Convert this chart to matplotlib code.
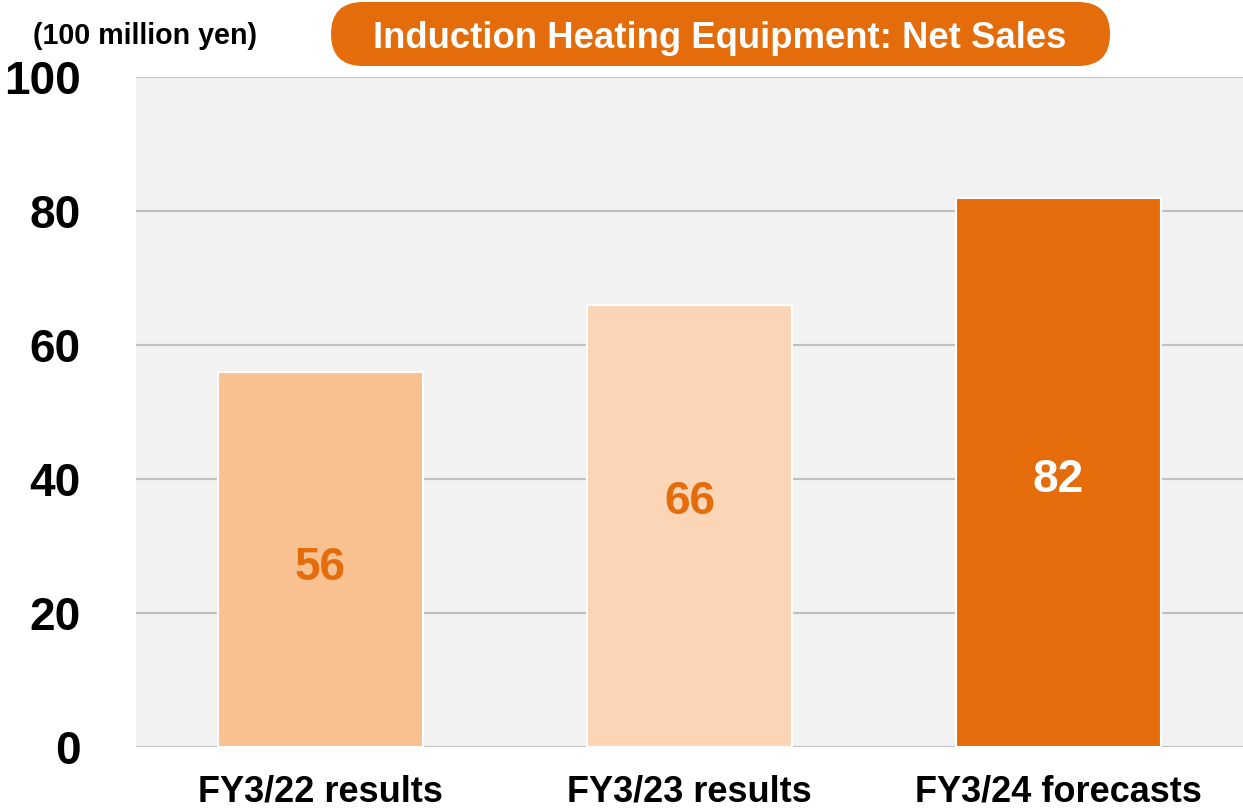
import numpy as np
import matplotlib.pyplot as plt
from matplotlib.patches import FancyBboxPatch

plt.rcParams['font.family'] = ['Liberation Sans', 'DejaVu Sans']
plt.rcParams['font.weight'] = 'bold'

categories = ['FY3/22 results', 'FY3/23 results', 'FY3/24 forecasts']
net_sales = [56, 66, 82]
bar_colors = ['#F9C090', '#FBD5B5', '#E46C0A']
label_colors = ['#E46C0A', '#E46C0A', '#FFFFFF']
label_frac = [0.49, 0.565, 0.495]
y_ticks = [0, 20, 40, 60, 80, 100]
title = 'Induction Heating Equipment: Net Sales'
unit = '(100 million yen)'

fig = plt.figure(figsize=(12.43, 8.1), dpi=100)
ax = fig.add_axes([136/1243, 63/810, 1 - 136/1243, 670/810])
ax.set_facecolor('#F2F2F2')

x = np.arange(len(categories))
ax.bar(x, net_sales, width=0.555, color=bar_colors, edgecolor='white', linewidth=1.5, zorder=3)
for xi, v, c, f in zip(x, net_sales, label_colors, label_frac):
    ax.text(xi, v * f, str(v), ha='center', va='center_baseline', fontsize=33, fontweight='bold', color=c, zorder=4)

ax.set_xlim(-0.5, 2.5)
ax.set_ylim(0, 100)
ax.set_yticks(y_ticks)
ax.set_xticks(x)
ax.set_xticklabels(categories, fontsize=26, fontweight='bold')
ax.tick_params(axis='y', length=0, pad=40, labelsize=33)
ax.tick_params(axis='x', length=0, pad=20)
ax.yaxis.grid(True, color='#C0C0C0', linewidth=1.5, zorder=0)
ax.set_axisbelow(True)
for s in ax.spines.values():
    s.set_visible(False)
ax.margins(0)

# title pill drawn in pixel coordinates
ov = fig.add_axes([0, 0, 1, 1], zorder=5)
ov.set_xlim(0, 1243)
ov.set_ylim(810, 0)
ov.axis('off')
ov.patch.set_alpha(0)
pill = FancyBboxPatch((331, 2), 779, 64, boxstyle='round,pad=0,rounding_size=32',
                      facecolor='#E46C0A', edgecolor='none')
ov.add_patch(pill)
ov.text(720, 34, title, ha='center', va='center_baseline', color='white', fontsize=26.3, fontweight='bold')
ov.text(145.5, 36, unit, ha='center', va='center', color='black', fontsize=20.6, fontweight='bold')

fig.savefig('out.png', dpi=100)
